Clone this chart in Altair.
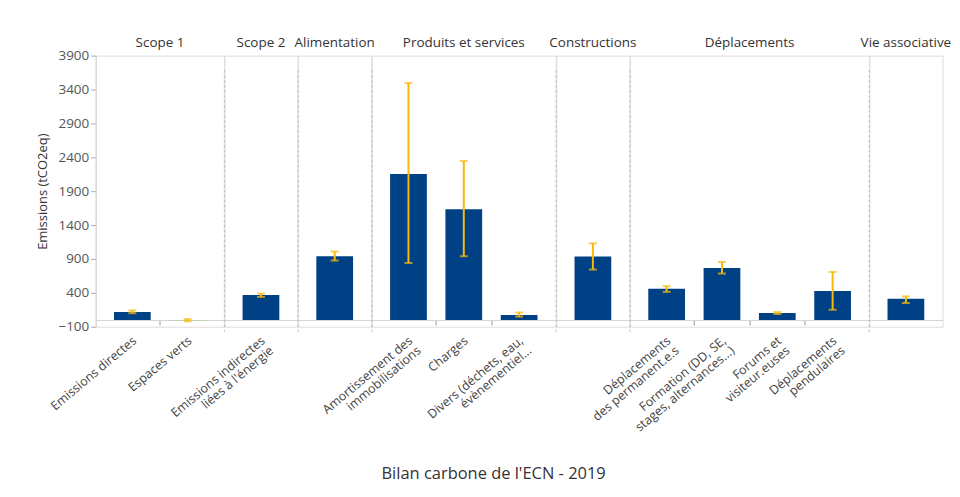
import altair as alt
import pandas as pd

groups = ["Scope 1", "Scope 1", "Scope 2", "Alimentation",
          "Produits et services", "Produits et services", "Produits et services",
          "Constructions", "Déplacements", "Déplacements", "Déplacements",
          "Déplacements", "Vie associative"]
group_order = ["Scope 1", "Scope 2", "Alimentation", "Produits et services",
               "Constructions", "Déplacements", "Vie associative"]
postes = ["Emissions directes", "Espaces verts",
          "Emissions indirectes\nliées à l'énergie", "Alimentation",
          "Amortissement des\nimmobilisations", "Charges",
          "Divers (déchets, eau,\névènementiel...", "Constructions",
          "Déplacements\ndes permanent.e.s", "Formation (DD, SE,\nstages, alternances...)",
          "Forums et\nvisiteur.euses", "Déplacements\npendulaires", "Vie associative"]
hidden_labels = ["Alimentation", "Constructions", "Vie associative"]
emissions = [117, -8, 367, 940, 2154, 1634, 73, 935, 459, 768, 103, 426, 313]
err_low = [100, -20, 340, 877, 841, 940, 50, 744, 415, 685, 88, 151, 250]
err_high = [140, 12, 390, 1010, 3495, 2345, 110, 1130, 499, 856, 118, 709, 348]
y_ticks = [-100, 400, 900, 1400, 1900, 2400, 2900, 3400, 3900]

df = pd.DataFrame({"groupe": groups, "poste": postes, "emissions": emissions,
                   "bas": err_low, "haut": err_high})

FONT = "Open Sans"
BLUE = "#004185"
ORANGE = "#f8b90c"
last_in_group = ["Espaces verts", "Emissions indirectes\nliées à l'énergie", "Alimentation",
                 "Divers (déchets, eau,\névènementiel...", "Constructions",
                 "Déplacements\npendulaires", "Vie associative"]
hide_expr = " || ".join([f"datum.value == {repr(v)}".replace("\n", "\\n") for v in last_in_group])
STEP = 55.5

x_enc = alt.X(
    "poste:N", sort=postes,
    scale=alt.Scale(paddingInner=0.336, paddingOuter=0.33),
    axis=alt.Axis(
        title=None, labelAngle=-40, labelFont=FONT, labelFontSize=12.5, labelColor="#444",
        labelExpr="indexof(" + repr(hidden_labels) + ", datum.label) >= 0 ? '' : split(datum.label, '\\n')",
        domainColor="#d4d4d4", tickColor="#999999", tickSize=5, offset=-6.8,
        tickOffset=STEP / 2, labelOffset=-STEP / 2 - 2,
        tickOpacity={"condition": {"test": hide_expr, "value": 0}, "value": 1},
        labelPadding=9, labelLineHeight=13,
    ),
)
y_scale = alt.Scale(domain=[-100, 3900], nice=False, zero=False)

bars = alt.Chart().mark_bar(color=BLUE).encode(
    x=x_enc,
    y=alt.Y("emissions:Q", scale=y_scale,
            axis=alt.Axis(title="Emissions (tCO2eq)", values=y_ticks, tickCount=20,
                          grid=False, format="d", labelOverlap=False,
                          titleFont=FONT, titleFontSize=13, titleFontWeight="normal",
                          titleColor="#333", labelFont=FONT, labelFontSize=13.5,
                          labelColor="#555", domainColor="#c8c8c8", tickColor="#aaaaaa",
                          titlePadding=9)),
    y2=alt.datum(0),
    color=alt.condition("datum.emissions < 0", alt.value("#a9d18e"), alt.value(BLUE)),
)
err_rule = alt.Chart().mark_rule(color=ORANGE, strokeWidth=2).encode(
    x=alt.X("poste:N", sort=postes), y="bas:Q", y2="haut:Q")
cap_hi = alt.Chart().mark_tick(color=ORANGE, size=8, thickness=2).encode(
    x=alt.X("poste:N", sort=postes), y="haut:Q")
cap_lo = alt.Chart().mark_tick(color=ORANGE, size=8, thickness=2).encode(
    x=alt.X("poste:N", sort=postes), y="bas:Q")
sep = alt.Chart().transform_aggregate(
    n="count()", groupby=["groupe"]
).transform_filter(
    alt.datum.groupe != "Scope 1"
).mark_rule(color="#b5b5b5", strokeDash=[2, 3], strokeWidth=1).encode(
    x=alt.value(0), y=alt.value(15), y2=alt.value(277))

layer = alt.layer(sep, bars, err_rule, cap_hi, cap_lo).properties(
    width=alt.Step(STEP), height=272)

chart = layer.facet(
    data=df,
    column=alt.Column("groupe:N", sort=group_order,
                      header=alt.Header(title=None, labelOrient="top", labelFont=FONT,
                                        labelFontSize=13.5, labelColor="#333",
                                        labelPadding=6)),
    spacing=0,
    align="each",
    bounds="flush",
).resolve_scale(x="independent").properties(
    title=alt.TitleParams("Bilan carbone de l'ECN - 2019", orient="bottom",
                          anchor="middle", font=FONT, fontSize=16.5,
                          fontWeight="normal", color="#333", offset=32),
    padding={"left": 28, "top": 27, "right": 0, "bottom": 5},
).configure_view(stroke="transparent", strokeWidth=0).configure(background="white")

chart.save("out.html", embed_options={"renderer": "svg", "actions": False})
